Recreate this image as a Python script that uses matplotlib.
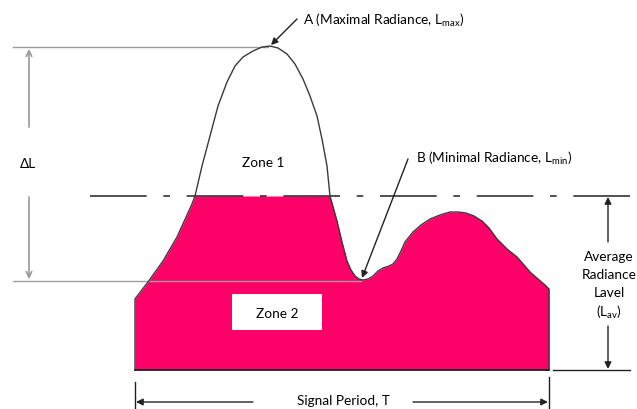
import numpy as np
import matplotlib.pyplot as plt
from matplotlib.patches import Rectangle

# signal outline (x, y in image pixels, y grows downwards)
curve_x = [135, 135, 138, 148, 163, 177, 192, 195, 202, 210, 218, 227, 235, 243, 253,
           262, 270, 278, 287, 295, 303, 310, 317, 322, 327, 330, 337, 342, 347, 351,
           355, 359, 363, 368, 373, 378, 383, 389, 393, 397, 401, 405, 413, 421, 430,
           440, 450, 458, 466, 474, 482, 489, 497, 507, 517, 524, 530, 538, 545, 549, 549]
curve_y = [371, 300, 296, 283, 262, 238, 205, 197, 167, 137, 107, 83, 67, 58, 52,
           48, 47, 49, 55, 65, 80, 97, 117, 140, 167, 197, 222, 243, 262, 271,
           277, 280, 281, 280, 277, 272, 269, 267, 265, 260, 252, 243, 233, 226, 220,
           216, 213, 213, 214, 217, 222, 229, 240, 250, 258, 266, 273, 280, 286, 290, 371]

y_lmax = 48      # maximal radiance level
y_mean = 197     # dashed average level
y_lmin = 282     # minimal radiance level
y_base = 371     # zero level
x_start, x_end = 135, 549

pink = "#fd0068"
plt.rcParams["font.family"] = ["Lato", "DejaVu Sans"]
fs = 9.8

fig = plt.figure(figsize=(6.37, 4.10), dpi=100)
ax = fig.add_axes([0, 0, 1, 1])
ax.set_xlim(0, 637)
ax.set_ylim(410, 0)
ax.axis("off")

cx = np.array(curve_x)
cy = np.array(curve_y)

# zone 2: everything under the curve and under the average level
ax.fill_between(cx, np.maximum(cy, y_mean), y_base, color=pink, lw=0, zorder=1)

# reference levels
ax.plot([13, 268], [y_lmax, y_lmax], color="#9a9a9a", lw=1.0, zorder=2)
ax.plot([13, 361], [y_lmin, y_lmin], color="#a0a0a0", lw=1.0, zorder=2)
ax.plot([90, 637], [y_mean, y_mean], color="#333333", lw=1.2,
        dashes=(34, 10, 4, 10), zorder=3)

# signal outline
ax.plot(cx, cy, color="#3a3a3a", lw=1.0, zorder=4, solid_joinstyle="round")
ax.plot([x_start, x_end], [y_base, y_base], color="#222222", lw=1.3, zorder=4)
ax.plot([553, 630], [y_base, y_base], color="#222222", lw=1.0, zorder=4)

# delta L arrows
grey = dict(arrowstyle="->", color="#9a9a9a", lw=1.2, shrinkA=0, shrinkB=0)
ax.annotate("", xy=(29, 50), xytext=(29, 128), arrowprops=grey)
ax.annotate("", xy=(29, 280), xytext=(29, 198), arrowprops=grey)
ax.text(28, 164, "ΔL", ha="center", va="center", fontsize=fs)

black = dict(arrowstyle="-|>", color="#222222", lw=1.0, shrinkA=0, shrinkB=0,
             mutation_scale=10)
# A and B pointers
ax.annotate("", xy=(271, 46), xytext=(297, 20), arrowprops=black)
ax.text(303, 20, r"A (Maximal Radiance, $\mathregular{L_{max}}$)",
        ha="left", va="center", fontsize=fs)
ax.annotate("", xy=(362, 279), xytext=(408, 160), arrowprops=black)
ax.text(416, 158, r"B (Minimal Radiance, $\mathregular{L_{min}}$)",
        ha="left", va="center", fontsize=fs)

# zone labels
ax.text(263, 163, "Zone 1", ha="center", va="center", fontsize=fs)
ax.add_patch(Rectangle((232, 295), 90, 36, facecolor="white", edgecolor="none", zorder=5))
ax.text(277, 314, "Zone 2", ha="center", va="center", fontsize=fs, zorder=6)

# average radiance level
ax.annotate("", xy=(608, y_mean + 1), xytext=(608, 243), arrowprops=black)
ax.annotate("", xy=(608, y_base - 1), xytext=(608, 327), arrowprops=black)
for txt, yy in [("Average", 257), ("Radiance", 275), ("Lavel", 293),
                (r"($\mathregular{L_{av}}$)", 312)]:
    ax.text(609, yy, txt, ha="center", va="center", fontsize=fs)

# signal period
ax.plot([x_start, x_start], [383, 410], color="#222222", lw=1.0)
ax.plot([x_end, x_end], [378, 410], color="#222222", lw=1.0)
ax.annotate("", xy=(x_start + 1, 403), xytext=(253, 403), arrowprops=black)
ax.annotate("", xy=(x_end - 1, 403), xytext=(413, 403), arrowprops=black)
ax.text(343, 401, "Signal Period, T", ha="center", va="center", fontsize=fs)

fig.savefig("out.png", dpi=100)
